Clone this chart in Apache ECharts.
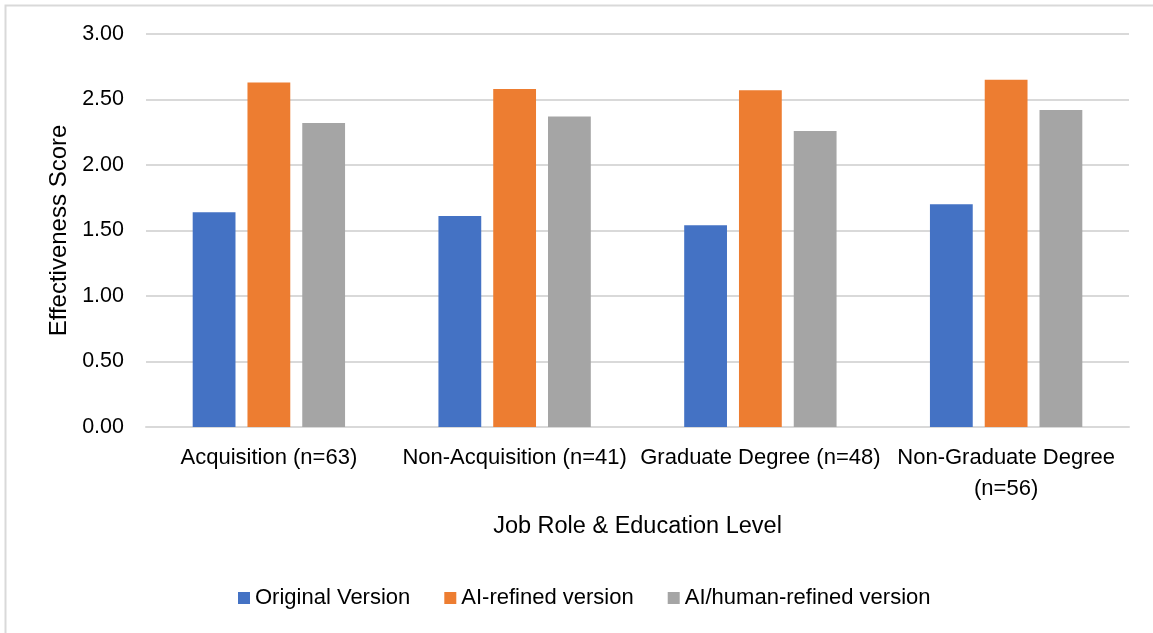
<!DOCTYPE html>
<html>
<head>
<meta charset="utf-8">
<script src="https://cdn.jsdelivr.net/npm/echarts@6/dist/echarts.min.js"></script>
<style>
  html, body { margin: 0; padding: 0; background: #fff; }
  #chart { width: 1153px; height: 633px; }
</style>
</head>
<body>
<div id="chart"></div>
<script>
// Effectiveness scores by job role and education level
const categories = ['Acquisition (n=63)', 'Non-Acquisition (n=41)', 'Graduate Degree (n=48)', 'Non-Graduate Degree\n(n=56)'];
const seriesNames = ['Original Version', 'AI-refined version', 'AI/human-refined version'];
const originalScores = [1.64, 1.61, 1.54, 1.70];
const aiRefinedScores = [2.63, 2.58, 2.57, 2.65];
const aiHumanScores = [2.32, 2.37, 2.26, 2.42];
const yTicks = [0, 0.5, 1, 1.5, 2, 2.5, 3];

const colors = ['#4472C4', '#ED7D31', '#A5A5A5'];
const labelFont = 'Liberation Sans, Arial, sans-serif';

const chart = echarts.init(document.getElementById('chart'), null, { renderer: 'canvas' });

const makeSeries = (name, data, color) => ({
  name: name,
  type: 'bar',
  data: data,
  barGap: '28%',
  barCategoryGap: '38%',
  itemStyle: { color: color },
  emphasis: { disabled: true }
});

chart.setOption({
  animation: false,
  backgroundColor: '#ffffff',
  color: colors,
  graphic: [{
    type: 'rect',
    shape: { x: 5.5, y: 5.5, width: 1160, height: 640 },
    style: { fill: 'none', stroke: '#d9d9d9', lineWidth: 2 },
    silent: true
  }],
  grid: { left: 146, right: 24, top: 34, bottom: 206 },
  legend: {
    data: seriesNames,
    bottom: 19,
    left: 233,
    icon: 'rect',
    itemWidth: 12,
    itemHeight: 12,
    itemGap: 34,
    textStyle: { fontFamily: labelFont, fontSize: 22, color: '#000' }
  },
  xAxis: {
    type: 'category',
    data: categories,
    name: 'Job Role & Education Level',
    nameLocation: 'middle',
    nameGap: 88,
    nameTextStyle: { fontFamily: labelFont, fontSize: 23.5, color: '#000' },
    axisLine: { lineStyle: { color: '#d9d9d9', width: 2 } },
    axisTick: { show: false },
    axisLabel: {
      interval: 0,
      margin: 15,
      fontFamily: labelFont,
      fontSize: 22,
      lineHeight: 31,
      color: '#000'
    }
  },
  yAxis: {
    type: 'value',
    min: yTicks[0],
    max: yTicks[yTicks.length - 1],
    interval: 0.5,
    name: 'Effectiveness Score',
    nameLocation: 'middle',
    nameGap: 72,
    nameTextStyle: { fontFamily: labelFont, fontSize: 24, color: '#000' },
    axisLine: { show: false },
    axisTick: { show: false },
    axisLabel: {
      margin: 22,
      fontFamily: labelFont,
      fontSize: 21.5,
      color: '#000',
      formatter: v => v.toFixed(2)
    },
    splitLine: { lineStyle: { color: '#d9d9d9', width: 2 } }
  },
  series: [
    makeSeries(seriesNames[0], originalScores, colors[0]),
    makeSeries(seriesNames[1], aiRefinedScores, colors[1]),
    makeSeries(seriesNames[2], aiHumanScores, colors[2])
  ]
});
</script>
</body>
</html>
